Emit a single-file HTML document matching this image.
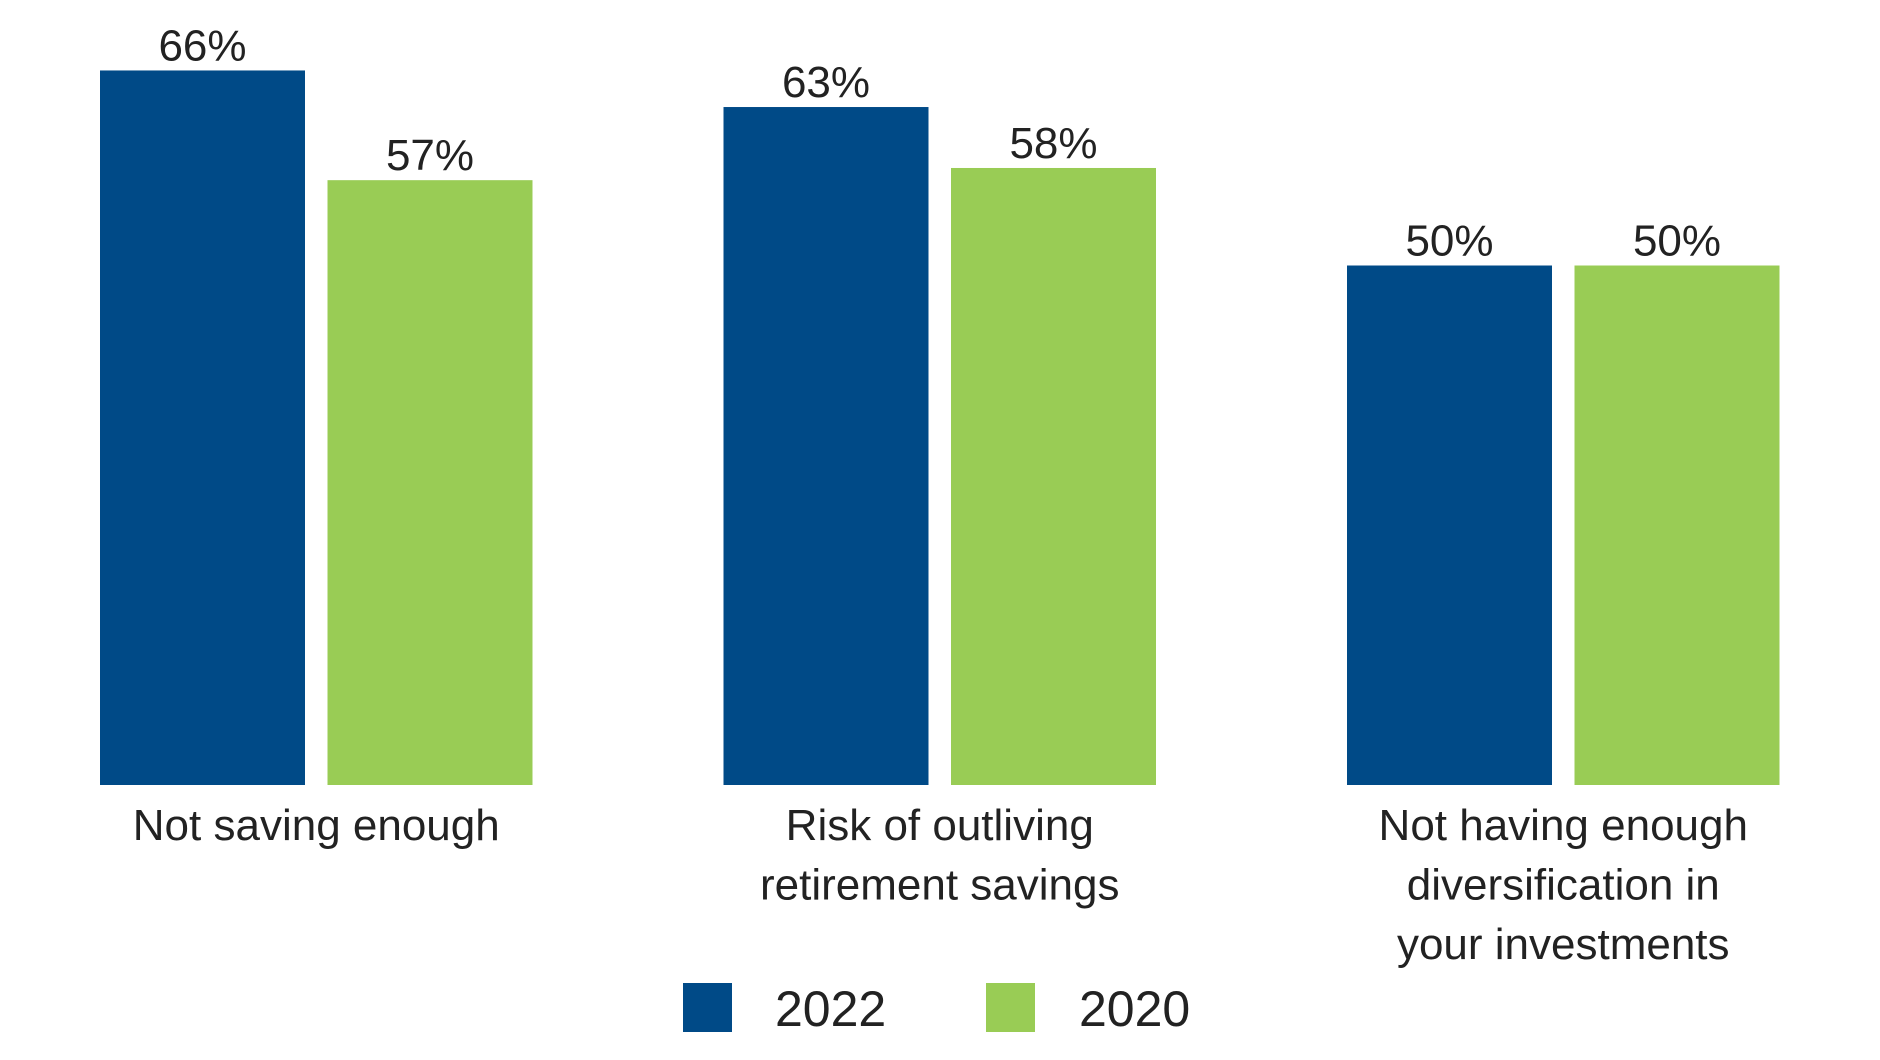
<!DOCTYPE html>
<html><head><meta charset="utf-8"><style>
html,body{margin:0;padding:0;background:#fff}
svg{display:block}
text{font-family:"Liberation Sans",sans-serif;fill:#222}
</style></head><body>
<svg id="chart" width="1880" height="1060" viewBox="0 0 1880 1060" xmlns="http://www.w3.org/2000/svg"></svg>
<script>
const categories=[["Not saving enough"],["Risk of outliving","retirement savings"],["Not having enough","diversification in","your investments"]];
const series2022=[66,63,50];
const series2020=[57,58,50];
const seriesNames=["2022","2020"];
const colors=["#004a87","#99cc55"];
const NS="http://www.w3.org/2000/svg";
const svg=document.getElementById('chart');
const base=785;
function y(v){return 875-12.19*v;}
function gx(i){return 100+i*623.5;}
const bw=205, gap=22.5;
function mk(tag,attrs,txt){const e=document.createElementNS(NS,tag);for(const k in attrs)e.setAttribute(k,attrs[k]);if(txt!==undefined)e.textContent=txt;svg.appendChild(e);return e;}
[series2022,series2020].forEach((s,si)=>{
  s.forEach((v,i)=>{
    const x=gx(i)+si*(bw+gap);
    const r=mk('rect',{x:x,y:y(v),width:bw,height:base-y(v),fill:colors[si]});
    
    
    const t=mk('text',{x:x+bw/2,y:y(v)-10,'text-anchor':'middle','font-size':44},v+'%');
    
    
  });
});
categories.forEach((lines,i)=>{
  const cx=gx(i)+bw+gap/2;
  lines.forEach((ln,li)=>{
    const t=mk('text',{x:cx,y:840+li*59.5,'text-anchor':'middle','font-size':44},ln);
    
    
  });
});
const legX=[683,986], legT=[775,1079];
seriesNames.forEach((n,i)=>{
  const r=mk('rect',{x:legX[i],y:983,width:49,height:49,fill:colors[i]});
  
  
  const t=mk('text',{x:legT[i],y:1026,'font-size':50},n);
  
  
});
</script>
</body></html>
